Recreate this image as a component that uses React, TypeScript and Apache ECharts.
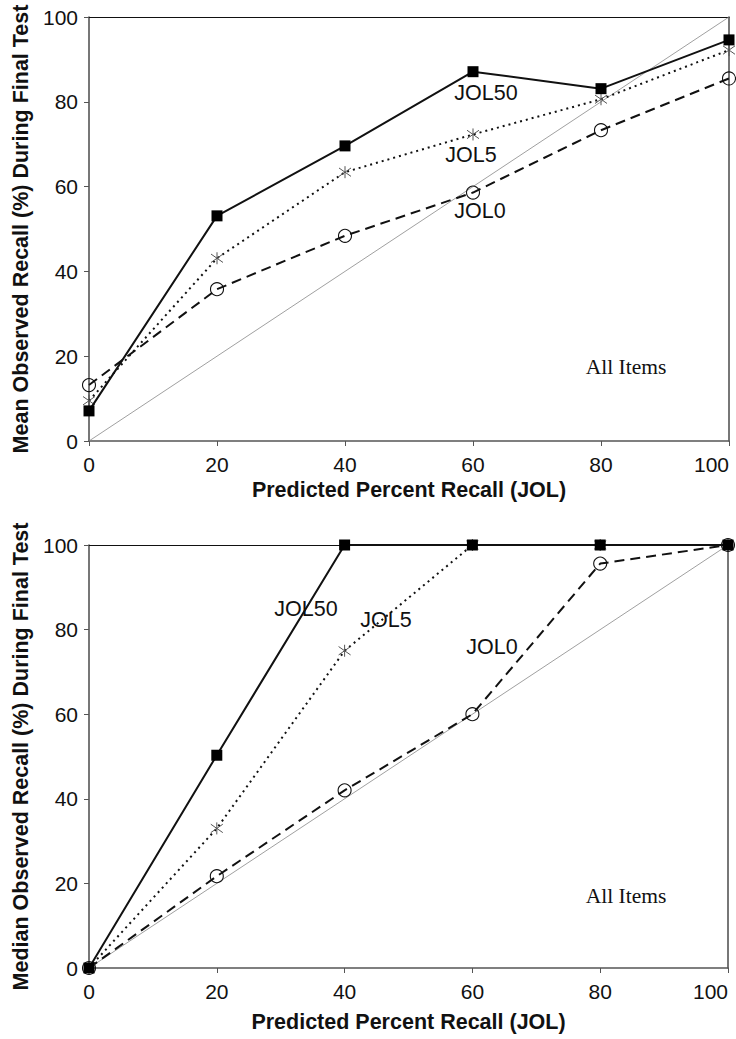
import React, { useEffect, useRef } from "react";
import * as echarts from "echarts";

const xValues = [0, 20, 40, 60, 80, 100];
const meanJOL50 = [7.1, 53.1, 69.6, 87.1, 83.1, 94.6];
const meanJOL5 = [9.5, 43.1, 63.4, 72.3, 80.6, 92.2];
const meanJOL0 = [13.2, 35.8, 48.4, 58.6, 73.3, 85.5];
const medianJOL50 = [0, 50.3, 100, 100, 100, 100];
const medianJOL5 = [0, 33, 75, 100, 100, 100];
const medianJOL0 = [0, 21.7, 42, 60, 95.6, 100];
const diagonal = [0, 100];

const SANS = "'Liberation Sans', Arial, Helvetica, sans-serif";
const SERIF = "'Liberation Serif', 'Times New Roman', serif";
const ASTERISK = "path://M5,0L5,10M0,1.5L10,8.5M0,8.5L10,1.5";

const pairs = (ys: number[]) => xValues.map((x, i) => [x, ys[i]]);

function xAxisMain(gridIndex: number, nameGap: number) {
  return {
    type: "value",
    gridIndex,
    min: 0,
    max: 100,
    interval: 20,
    position: "bottom",
    axisLine: { show: true, onZero: false, lineStyle: { color: "#555", width: 1.6 } },
    axisTick: { show: true, length: 5, lineStyle: { color: "#555", width: 1 } },
    axisLabel: { fontSize: 21, color: "#111", fontFamily: SANS, margin: 13, alignMaxLabel: "right" },
    splitLine: { show: false },
    name: "Predicted Percent Recall (JOL)",
    nameLocation: "middle",
    nameGap,
    nameTextStyle: { fontSize: 21.5, fontWeight: "bold", color: "#111", fontFamily: SANS },
  };
}

function yAxisMain(gridIndex: number, name: string) {
  return {
    type: "value",
    gridIndex,
    min: 0,
    max: 100,
    interval: 20,
    position: "left",
    axisLine: { show: true, onZero: false, lineStyle: { color: "#555", width: 1.6 } },
    axisTick: { show: true, length: 5, lineStyle: { color: "#555", width: 1 } },
    axisLabel: { fontSize: 21, color: "#111", fontFamily: SANS, margin: 11 },
    splitLine: { show: false },
    name,
    nameLocation: "middle",
    nameGap: 57,
    nameTextStyle: { fontSize: 21.5, fontWeight: "bold", color: "#111", fontFamily: SANS },
  };
}

function xAxisTop(gridIndex: number) {
  return {
    type: "value",
    gridIndex,
    min: 0,
    max: 100,
    position: "top",
    axisLine: { show: true, onZero: false, lineStyle: { color: "#111", width: 1 } },
    axisTick: { show: false },
    axisLabel: { show: false },
    splitLine: { show: false },
  };
}

function yAxisRight(gridIndex: number) {
  return {
    type: "value",
    gridIndex,
    min: 0,
    max: 100,
    position: "right",
    axisLine: { show: true, onZero: false, lineStyle: { color: "#555", width: 1.6 } },
    axisTick: { show: false },
    axisLabel: { show: false },
    splitLine: { show: false },
  };
}

function seriesFor(gridIdx: number, j50: number[], j5: number[], j0: number[]) {
  const xi = gridIdx * 2;
  const yi = gridIdx * 2;
  return [
    {
      type: "line",
      name: "identity",
      xAxisIndex: xi,
      yAxisIndex: yi,
      data: [[diagonal[0], diagonal[0]], [diagonal[1], diagonal[1]]],
      showSymbol: false,
      symbol: "none",
      lineStyle: { color: "#888", width: 0.8 },
      z: 1,
    },
    {
      type: "line",
      name: "JOL0",
      xAxisIndex: xi,
      yAxisIndex: yi,
      data: pairs(j0),
      symbol: "circle",
      symbolSize: 13,
      itemStyle: { color: "rgba(255,255,255,0)", borderColor: "#111", borderWidth: 1.1 },
      lineStyle: { color: "#111", width: 2, type: [10, 6] },
      z: 2,
    },
    {
      type: "line",
      name: "JOL5",
      xAxisIndex: xi,
      yAxisIndex: yi,
      data: pairs(j5),
      symbol: ASTERISK,
      symbolSize: 12,
      itemStyle: { color: "rgba(0,0,0,0)", borderColor: "#555", borderWidth: 1 },
      lineStyle: { color: "#111", width: 2, type: [2, 4] },
      z: 3,
    },
    {
      type: "line",
      name: "JOL50",
      xAxisIndex: xi,
      yAxisIndex: yi,
      data: pairs(j50),
      symbol: "rect",
      symbolSize: 11,
      itemStyle: { color: "#000", borderWidth: 0 },
      lineStyle: { color: "#111", width: 2 },
      z: 4,
    },
  ];
}

function label(text: string, x: number, y: number, serif = false) {
  return {
    type: "text",
    x,
    y,
    z: 10,
    style: {
      text,
      fill: "#111",
      font: serif ? `21.5px ${SERIF}` : `21.5px ${SANS}`,
      textAlign: "center",
      textVerticalAlign: "middle",
    },
  };
}

export default function App() {
  const ref = useRef<HTMLDivElement>(null);

  useEffect(() => {
    document.body.style.margin = "0";
    if (!ref.current) return;
    const chart = echarts.init(ref.current, undefined, { renderer: "svg" });
    const option = {
      animation: false,
      backgroundColor: "#fff",
      grid: [
        { left: 89, top: 17, width: 640, height: 424 },
        { left: 89, top: 545, width: 639, height: 423 },
      ],
      xAxis: [xAxisMain(0, 38), xAxisTop(0), xAxisMain(1, 43), xAxisTop(1)],
      yAxis: [
        yAxisMain(0, "Mean Observed Recall (%) During Final Test"),
        yAxisRight(0),
        yAxisMain(1, "Median Observed Recall (%) During Final Test"),
        yAxisRight(1),
      ],
      series: [
        ...seriesFor(0, meanJOL50, meanJOL5, meanJOL0),
        ...seriesFor(1, medianJOL50, medianJOL5, medianJOL0),
      ],
      graphic: [
        label("JOL50", 486, 93),
        label("JOL5", 471, 155),
        label("JOL0", 480, 211),
        label("All Items", 626, 367, true),
        label("JOL50", 306, 609),
        label("JOL5", 386, 620),
        label("JOL0", 492, 647),
        label("All Items", 626, 896, true),
      ],
    };
    chart.setOption(option as any);
    return () => chart.dispose();
  }, []);

  return <div ref={ref} style={{ width: 736, height: 1039 }} />;
}
